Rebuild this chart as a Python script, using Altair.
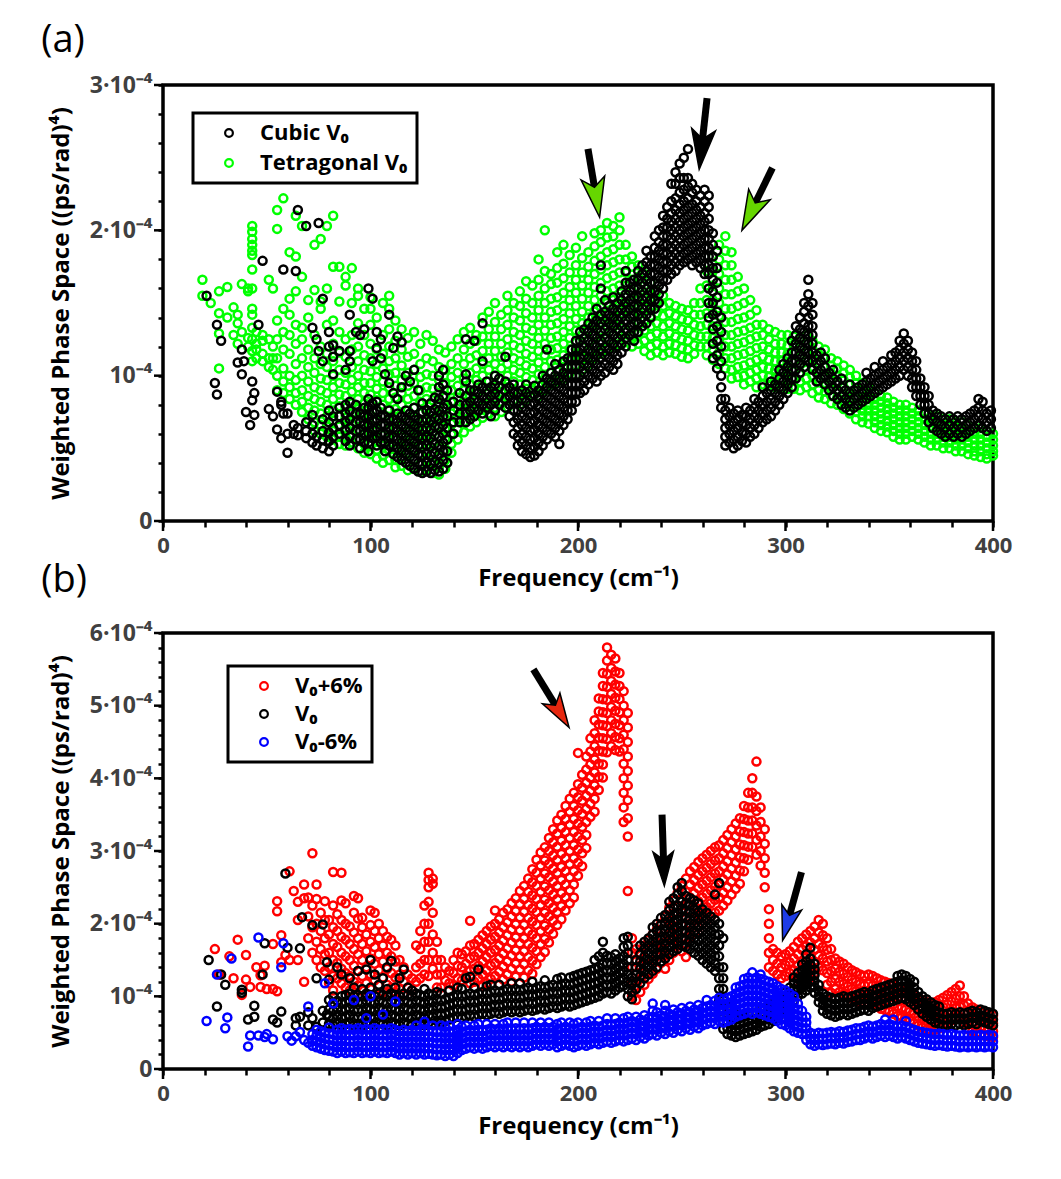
import math
import altair as alt
import pandas as pd

# ---------------- tick values / labels ----------------
FREQ_TICKS = list(range(0, 401, 20))
FREQ_MAJOR = [0, 100, 200, 300, 400]
YTICKS_A = [round(i * 0.2, 1) for i in range(16)]
YTICKS_B = [round(i * 0.2, 1) for i in range(31)]
YMAJOR_A = [0, 1, 2, 3]
YMAJOR_B = [0, 1, 2, 3, 4, 5, 6]

SERIES_A = ["Cubic V₀", "Tetragonal V₀"]
COLORS_A = ["#000000", "#00ff00"]
SERIES_B = ["V₀+6%", "V₀", "V₀-6%"]
COLORS_B = ["#ff0000", "#000000", "#0000ff"]

# ---------------- data: "frequency: values (x 1e-6)" ----------------
# panel (a) tetragonal V0 (green)
TET_A = """
19: 166 155
23: 150
27: 158 143 129 105
31: 161 140
34: 147 128
36: 142 136 122
38: 163 130
41: 160 158 120 126
43: 203 199 194 190 186 183 173 160 146 142 133 125 117 110
45: 130 122 118 112
48: 128 115 110 124
51: 166 125 112 106
53: 160 120 104 112
55: 214 201 138 125 112 100 90
58: 222 146 130 118 105 96 88
61: 185 153 142 128 115 100 92 84
64: 210 182 158 135 122 108 97 88 80
67: 203 168 133 125 112 100 90 82 75
70: 152 140 118 106 96 86 78 70
73: 190 159 128 112 102 92 84 76 68 62
76: 194 151 146 120 108 98 90 82 74 66 60
79: 203 160 135 115 106 97 88 80 72 65 58
82: 210 175 138 122 110 100 92 84 76 69 62 56
85: 175 151 130 116 104 95 87 79 72 65 58 53
88: 168 162 125 113 102 94 86 78 71 64 58 52
91: 174 150 128 118 106 97 89 81 74 67 60 54
94: 160 155 136 120 110 100 92 84 77 70 63 56 50
97: 146 128 114 104 95 88 81 74 67 60 53 47
100: 154 146 135 122 112 103 95 87 80 73 66 59 52 46
103: 140 118 108 99 91 83 76 69 62 55 49 43
106: 150 128 115 105 96 88 80 73 66 59 52 45 40
109: 155 146 132 120 110 101 92 84 77 70 63 56 49 42
112: 138 124 112 102 93 85 77 70 63 56 49 42 37
115: 132 118 107 97 88 80 72 65 58 51 44 38
118: 126 113 102 93 84 76 68 61 54 47 40 35
121: 130 115 104 95 86 78 70 63 56 49 42 36
124: 122 108 99 90 82 74 67 60 53 46 39 34
127: 128 112 101 92 84 76 69 62 55 48 41 35
130: 124 110 100 91 83 75 68 61 54 47 40 33
133: 118 106 97 88 80 72 65 58 51 44 37 32
136: 116 104 95 86 78 70 63 56 49 42 36
139: 120 108 99 90 82 74 67 60 53 47
142: 125 112 102 93 85 77 70 63 56
145: 130 118 108 98 90 82 75 68 61
148: 133 122 112 102 94 86 79 72 65
151: 128 124 114 105 97 89 82 75 68
154: 140 127 117 108 100 92 85 78 71
157: 144 132 122 112 104 96 88 81 74
160: 150 137 127 117 108 100 92 85 78 72
163: 142 132 122 113 105 97 89 82 75
166: 155 145 135 125 116 108 100 92 85 78
169: 150 140 130 121 112 104 96 89 82
172: 158 148 138 128 119 110 102 94 87 80
175: 165 153 143 133 124 115 107 99 91 84
178: 162 150 140 131 122 113 105 97 90
181: 180 166 155 145 135 126 117 109 101 93 86
184: 200 172 160 150 140 131 122 114 106 98 90
187: 170 163 153 144 135 126 118 110 102 94
190: 185 174 164 154 145 136 127 119 111 103 96
193: 190 177 167 157 148 139 130 122 114 106 98
196: 183 171 161 152 143 134 126 118 110 102
199: 188 176 166 157 148 139 131 123 115 107 100
202: 196 181 171 162 153 144 136 128 120 112 104
205: 185 175 166 157 148 140 132 124 116 108
208: 198 189 179 170 161 152 144 136 128 120 112
211: 200 192 182 173 164 155 147 139 131 123 115
214: 205 195 185 176 167 158 150 142 134 126 118
217: 203 196 187 178 169 160 152 144 136 128 120
220: 209 200 190 180 171 162 154 146 138 130 122
223: 190 180 171 162 154 146 138 130 123
226: 182 175 166 158 150 142 134 127 120
229: 176 168 160 152 144 136 129 122
232: 170 162 154 146 138 131 124 117
235: 164 156 148 141 134 127 120 114
238: 158 150 143 136 129 122 116
241: 155 148 141 134 127 120 114
244: 150 143 136 129 122 116
247: 148 141 134 127 121 115
250: 146 139 132 125 119 113
253: 145 138 131 124 118 112
256: 150 142 135 128 121 115
259: 160 150 142 134 127 120
262: 172 162 152 143 135 127 120 114
265: 182 172 162 152 143 134 126 118 111
268: 190 180 170 160 150 141 132 124 116 108
271: 196 186 176 166 156 146 137 128 120 112 105
274: 185 176 166 156 146 137 128 120 112 104 98
277: 168 158 148 139 130 122 114 106 99
280: 160 150 140 131 123 115 107 100 94
283: 152 142 133 125 117 109 102 96
286: 145 135 127 119 111 104 98 92
289: 135 128 120 113 106 100 94
292: 132 125 118 111 105 99 93
295: 130 122 116 110 104 98 92
298: 128 122 116 110 104 98 92
301: 128 121 115 109 103 97 91
304: 127 121 115 109 103 97 91
307: 126 120 114 108 102 96 90
310: 128 122 116 110 104 98 92
313: 124 118 112 106 100 94 88
316: 120 114 108 102 96 90 85
319: 118 112 106 100 95 89 84
322: 112 107 101 96 91 86 81
325: 110 105 100 95 90 85 80
328: 107 102 97 92 87 82 77
331: 104 99 94 89 84 79 74
334: 100 95 90 85 80 75 70
337: 95 90 85 80 76 72 68
340: 92 88 84 80 76 72 67
343: 88 84 80 76 72 68 64
346: 86 82 78 74 70 66 62
349: 85 81 77 73 69 65 61
352: 82 78 74 70 66 62 58
355: 80 76 72 68 64 60 56
358: 80 76 72 68 64 60 56
361: 78 74 70 66 62 58
364: 76 72 68 64 60 56
367: 74 70 66 62 58 54
370: 72 68 64 60 56 52
373: 72 68 64 60 56 52
376: 70 66 62 58 54 50
379: 70 66 62 58 54 50
382: 68 64 60 56 52 48
385: 68 64 60 56 52 48
388: 66 62 58 54 50 46
391: 64 60 56 52 48 45
394: 64 60 56 52 48 44
397: 62 58 54 50 46 43
400: 60 56 52 48 45
"""

# panel (a) cubic V0 (black)
CUB_A = """
21: 155
25: 95
26: 135 87
28: 124
36: 109
38: 118 101
39: 110
40: 75
42: 66
43: 96 83
44: 88 73
46: 135
48: 179
51: 77
53: 72
55: 89 63
57: 57 82 80
58: 173 74
60: 47 60 74
63: 60 66
64: 172
65: 214 59 64
69: 203 57 62 68
72: 133 54 60 66 73
74: 125 52 58
75: 205 117
77: 153 110 50 56 62 70
80: 130 120 48 55 61 68 76
82: 121 113 101 52 58 64 72
85: 117 60 66 72 78
88: 104 55 62 68 74 80
90: 142 117 110 52 58 64 70 76 82
93: 130 56 62 68 74 80
95: 128 50 56 62 68 74
97: 132 54 60 66 72 78
99: 160 48 54 60 66 72 78 84
101: 153 110 57 63 69 75 81
103: 130 119 52 58 64 70 76 82
105: 125 112 54 60 66 72 78
107: 101 48 54 60 66 72
109: 142 95 52 58 64 70 76
111: 119 88 46 52 58 64 70
113: 127 84 44 50 56 62 68 74
115: 123 92 42 48 54 60 66 72
117: 100 40 46 52 58 64 70 76
119: 96 38 44 50 56 62 68 74
121: 104 36 42 48 54 60 66 72 78
123: 90 34 40 46 52 58 64 70
125: 33 39 45 51 57 63 69 75 81
127: 34 40 46 52 58 64 70 76
129: 33 39 45 51 57 63 69 75 81
131: 35 41 47 53 59 65 71 77 85
133: 34 40 46 52 58 64 70 76 84 92 100
135: 36 42 48 54 60 66 72 78 86 94 104
137: 40 48 56 64 72 80 90
140: 60 68 76 82
143: 68 74 80 88
146: 125 101 96 68 74 80 86
148: 70 76 82 90
150: 124 72 78 84 90
152: 76 82 88 94
154: 136 110 74 80 86 92
156: 78 84 90 96
158: 72 80 86 92
160: 76 82 88 94 100
162: 80 86 92 98
165: 113 78 84 90 96
167: 72 80 86 92
169: 60 68 76 82 88 94
171: 52 58 64 70 76 82 88
173: 48 54 60 66 72 78 84 90
175: 46 52 58 64 70 76 82 88 94
177: 44 50 56 62 68 74 80 86
179: 45 51 57 63 69 75 81 87 93
181: 48 54 60 66 72 78 84 90
183: 52 58 64 70 76 82 88 94 100
185: 118 56 62 68 74 80 86 92 98
187: 60 66 72 78 84 90 96 102
189: 58 64 70 76 82 88 94 100 108
191: 53 62 68 74 80 86 92 98 104
193: 66 72 78 84 90 96 102 110
195: 70 76 82 88 94 100 106 112
197: 76 82 88 94 100 106 112 118
199: 82 88 94 100 106 112 118 124
201: 88 94 100 106 112 118 124 130
203: 90 96 102 108 114 120 126 132
205: 94 100 106 112 118 124 130 136
207: 98 104 110 116 122 128 134 140
209: 96 102 108 114 120 126 132 138 146
211: 100 106 112 118 124 130 136 142 160 176
213: 102 108 114 120 126 132 138 144 152
215: 106 112 118 124 130 136 142 148
217: 104 110 116 122 128 134 140 146 154
219: 108 114 120 126 132 138 144 150
221: 116 122 128 134 140 146 152 158
223: 120 126 132 138 144 150 156 164 172
225: 128 134 140 146 152 158 164
227: 124 130 136 142 148 154 160 166
229: 130 136 142 148 154 160 166 172
231: 134 140 146 152 158 164 170 176
233: 136 142 148 154 160 166 172 178 186
235: 140 146 152 158 164 170 176 182
237: 146 152 158 164 170 176 182 188 196
239: 150 156 162 168 174 180 186 192 200
241: 160 166 172 178 184 190 196 202 210
243: 166 172 178 184 190 196 202 208 216
245: 170 176 182 188 194 200 206 212 220 232
247: 172 178 184 190 196 202 208 214 222 232 240
249: 176 182 188 194 200 206 212 218 226 236 246
251: 178 184 190 196 202 208 214 220 228 236 250
253: 180 186 192 198 204 210 216 222 230 236 256
255: 176 182 188 194 200 206 212 218 226 232
257: 178 184 190 196 202 208 214 220 228
259: 174 180 186 192 198 204 210 216 224
261: 170 176 182 188 194 200 206 212 220 228
263: 140 150 160 170 176 182 188 194 200 208 216 224
265: 112 122 132 142 150 158 166 174 182 190 198
267: 105 114 124 134 144 154 164 174 186
269: 78 84 92 100 110 120 130 140
271: 52 58 64 70 76 84
273: 54 60 66 72 78
275: 50 56 62 68 74
277: 52 58 64 70 76
279: 55 61 67 73
281: 54 60 66 72 78
283: 58 64 70 76
285: 60 66 72 78 84
287: 64 70 76 82
289: 68 74 80 86 92
291: 70 76 82 88
293: 72 78 84 90 96
295: 76 82 88 94
297: 80 86 92 98 104
299: 84 90 96 102 108
301: 88 94 100 106 112
303: 92 98 104 110 116 124
305: 98 104 110 116 122 128 134
307: 102 108 114 120 126 132 140
309: 106 112 118 124 130 136 144 150
311: 110 116 122 128 134 140 148 156 166
313: 104 110 116 122 128 134 142 150
315: 96 102 108 114
317: 98 104 110 116
319: 94 100 106 112
321: 90 96 102
323: 86 92 98 104
325: 84 90 96
327: 80 86 92 98
329: 78 84 90
331: 76 82 88 94
333: 78 84 90
335: 80 86 92
337: 82 88 94
339: 84 90 96 102
341: 86 92 98
343: 88 94 100 106
345: 90 96 102
347: 92 98 104 110
349: 94 100 106
351: 96 102 108 114
353: 98 104 110 116
355: 100 106 112 118 124
357: 104 110 116 122 129
359: 100 106 112 118 124
361: 92 98 104 110 116
363: 86 92 98 104 110
365: 80 86 92 98
367: 74 80 86 92
369: 68 74 80 86
371: 64 70 76
373: 62 68 74
375: 60 66 72
377: 58 64 70
379: 60 66 72
381: 58 64 70
383: 60 66 72
385: 58 64 70
387: 60 66 72
389: 62 68 74
391: 64 70 76
393: 66 72 78 84
395: 64 70 76 82
397: 62 68 74
399: 64 70 76
"""

# panel (b) V0+6% (red)
P6_B = """
25: 165
27: 130
32: 155
34: 125
36: 178
38: 102
40: 157 123
42: 113
45: 140
47: 129 113
49: 142
50: 110
53: 172 110
55: 231 217 107
57: 184 147
59: 157
61: 272 150
63: 245
65: 230 205 150
68: 254 235 120
70: 236 210 180
72: 297 225 195 160
74: 254 234 200 175 150
76: 215 190 165 140
78: 231 205 180 158 135
80: 205 185 160 140 118
82: 271 225 195 172 150 128 108
84: 213 190 168 146 125
86: 270 232 205 182 160 138 118
88: 228 200 178 155 132 112
90: 196 172 150 128 108
92: 238 215 188 165 142 120 100
94: 235 207 180 158 135 115
96: 208 195 172 150 128 108
98: 185 162 140 118 100
100: 218 198 175 152 130 110
102: 215 190 168 145 122 102
104: 200 180 158 136 115
106: 190 170 148 126 106
108: 182 160 138 116
110: 178 155 132 112
112: 170 148 126 106
114: 150 130 110
116: 140 120 102
118: 130 112
120: 125 108
122: 170 140 120
124: 190 165 145 125
126: 225 200 175 150 130
128: 270 260 250 230 200 175 150 128
130: 262 255 215 185 160 138
132: 175 150 130 112
134: 150 130 112
136: 140 122
138: 135 118
140: 150 132 115
142: 160 142 125
144: 158 140 122
146: 162 145 128
148: 204 170 152 135 118
150: 172 155 138 120
152: 178 160 142 125
154: 184 166 148 130 114
156: 190 172 154 136 118
158: 196 178 160 142 124
160: 218 200 182 164 146 128
162: 206 188 170 152 134 116
164: 215 195 177 159 141 123
166: 220 202 184 166 148 130
168: 228 210 192 174 156 138 120
170: 235 217 199 181 163 145 127
172: 245 227 209 191 173 155 137
174: 252 234 216 198 180 162 144 126
176: 262 244 226 208 190 172 154 136
178: 275 257 239 221 203 185 167 149 131
180: 288 270 252 234 216 198 180 162 144
182: 298 280 262 244 226 208 190 172 154
184: 305 287 269 251 233 215 197 179 161
186: 318 300 282 264 246 228 210 192 174
188: 330 312 294 276 258 240 222 204 186
190: 342 324 306 288 270 252 234 216 198
192: 350 332 314 296 278 260 242 224 206
194: 362 344 326 308 290 272 254 236 218
196: 372 354 336 318 300 282 264 246 228
198: 380 362 344 326 308 290 272 254 236
200: 435 392 374 356 338 320 302 284 266
202: 405 387 369 351 333 315 297 279
204: 430 412 394 376 358 340 322 304
206: 455 437 419 401 383 365 347
208: 480 462 444 426 408 390 372 354
210: 510 492 474 456 438 420 402 384
212: 545 527 509 491 473 455 437 419 401
214: 580 562 544 526 508 490 472 454 436
216: 570 552 534 516 498 480 462 444
218: 565 547 529 511 493 475 457 439
220: 545 527 509 491 473 455 437
222: 520 500 480 460 440 420 400 380 360 340
224: 490 470 450 430 410 390 370 345 320 245
226: 180 160 140 120 100
228: 165 148 130 112 95
230: 160 142 124 106
232: 170 152 134 116
234: 178 160 142 124
236: 185 167 149 131
238: 192 174 156 138
240: 200 182 164 146
242: 210 192 174 156 138
244: 222 204 186 168 150
246: 232 214 196 178 160
248: 242 224 206 188 170
250: 252 234 216 198 180 162
252: 262 244 226 208 190 172 154
254: 272 254 236 218 200 182
256: 278 260 242 224 206 188
258: 285 267 249 231 213 195
260: 290 272 254 236 218 200
262: 295 277 259 241 223 205
264: 300 282 264 246 228 210
266: 305 287 269 251 233 215
268: 308 290 272 254 236 218
270: 315 297 279 261 243 225
272: 322 304 286 268 250 232
274: 330 312 294 276 258 240
276: 338 320 302 284 266 248
278: 345 327 309 291 273 255
280: 362 344 326 308 290 272
282: 380 360 342 324 306 288
284: 400 380 360 342 324 306
286: 423 375 355 335 315 295
288: 360 340 320 300 280
290: 330 310 290 270 250
292: 220 200 180 160 140
294: 165 150 135
296: 160 145 130
298: 155 140 125
300: 158 143 128
302: 162 147 132
304: 168 152 136 120
306: 175 158 142 126
308: 180 164 148 132
310: 185 169 153 137
312: 190 174 158 142 126
314: 196 180 164 148 132
316: 205 188 172 156 140
318: 200 184 168 152 136
320: 180 164 148 132 116
322: 165 150 135 120 105
324: 152 138 124 110
326: 148 134 120 106
328: 145 131 117 103
330: 140 127 114 101
332: 136 123 110 97
334: 133 120 107 94
336: 130 117 104 91
338: 128 115 102 89
340: 130 117 104 91
342: 128 115 102 89
344: 125 112 99 86
346: 122 109 96 83
348: 120 107 94 81
350: 118 105 92 79
352: 115 102 89 76
354: 112 99 86 73
356: 110 97 84 71
358: 108 95 82 69
360: 105 92 79 66
362: 102 89 76 63
364: 98 85 72 60
366: 95 82 69 57
368: 92 79 66 54
370: 90 77 64 52
372: 92 79 66 54
374: 95 82 69 56
376: 98 85 72 59
378: 102 89 76 63
380: 106 93 80 67
382: 110 97 84 71
384: 115 100 86 72
386: 100 88 76 64
388: 90 78 66 55
390: 85 74 63 52
392: 82 71 60 50
394: 80 69 58 48
396: 78 67 56 46
398: 76 65 54 45
400: 74 63 52 44
"""

# panel (b) V0 (black)
V0_B = """
22: 150
26: 86
28: 130
30: 116
38: 109 105
41: 68
44: 87 72
48: 130
49: 173
53: 68
55: 64
57: 79
59: 269
60: 167
64: 60 70
66: 166 72
67: 209
70: 78 60
72: 198 70
74: 125 58
77: 199 80 64
79: 147 75
80: 62 72 82 95 123
82: 60 70 80 90 100
84: 64 74 84 94 140
86: 60 70 80 90 100 130
88: 62 72 82 92 102
90: 64 74 84 94 104 125
92: 60 70 80 90 100 112
94: 62 72 82 92 102 135
96: 60 70 80 90 100 110
98: 64 74 84 94 104 137
100: 62 72 82 92 102 112 150
102: 60 70 80 90 100 130
104: 64 74 84 94 104 116
106: 62 72 82 92 102 125
108: 60 70 80 90 100 110 140
110: 64 74 84 94 104 149
112: 62 72 82 92 102 112
114: 60 70 80 90 100 125
116: 64 74 84 94 104 137
118: 62 72 82 92 102 112
120: 60 70 80 90 100 108
122: 64 74 84 94 104
124: 62 72 82 92 102
126: 60 70 80 90 100 110
128: 64 74 84 94 104
130: 62 72 82 92 102
132: 66 76 86 96 106
134: 64 74 84 94 104
136: 66 76 86 96
138: 68 78 88 98 108
140: 70 80 90 100
142: 72 82 92 102 112
144: 70 80 90 100 110
146: 72 82 92 102 125
148: 74 84 94 104 127
150: 72 82 92 102 112
152: 74 84 94 104 137
154: 76 86 96 106
156: 74 84 94 104 114
158: 76 86 96 106 116
160: 78 88 98 108
162: 76 86 96 106 116
164: 78 88 98 108
166: 80 90 100 110
168: 78 88 98 108 118
170: 80 90 100 110
172: 78 88 98 108 118
174: 80 90 100 110
176: 82 92 102 112
178: 80 90 100 110 120
180: 82 92 102 112
182: 84 94 104 114
184: 82 92 102 112 122
186: 84 94 104 114
188: 86 96 106 116
190: 84 94 104 114 124
192: 86 96 106 116 126
194: 88 98 108 118
196: 86 96 106 116 126
198: 88 98 108 118 128
200: 90 100 110 120 130
202: 92 102 112 122 132
204: 94 104 114 124 134
206: 96 106 116 126 136
208: 98 108 118 128 138 150
210: 100 110 120 130 140 155
212: 104 114 124 134 144 160 175
214: 106 116 126 136 146 156
216: 104 114 124 134 144 154
218: 108 118 128 138 148 158
220: 112 122 132 142 152
222: 115 125 135 145 155 168 180
224: 100 110 120 130 140 150 160 170 182
226: 96 106 116 126
228: 110 120 130 140 150
230: 118 128 138 148 158 170
232: 125 135 145 155 165 175
234: 130 140 150 160 170 180
236: 135 145 155 165 175 185 195
238: 140 150 160 170 180 190 200
240: 148 158 168 178 188 198 208
242: 152 162 172 182 192 202 212
244: 158 168 178 188 198 208 218 230
246: 162 172 182 192 202 212 222 235
248: 165 175 185 195 205 215 225 240 250
250: 170 180 190 200 210 220 230 245 256
252: 168 178 188 198 208 218 228 238
254: 165 175 185 195 205 215 225 235
256: 160 170 180 190 200 210 220 232
258: 156 166 176 186 196 206 216 228
260: 150 160 170 180 190 200 210 220
262: 145 155 165 175 185 195 205 215
264: 140 150 160 170 180 190 200 210
266: 135 145 155 165 175 185 195 205 240
268: 80 95 110 125 140 155 170 185 200 256
270: 55 65 80 95 110 125 140 180
272: 48 56 66 76 86
274: 46 54 62 70
276: 44 52 60 68 76
278: 46 54 62 70
280: 48 56 64 72
282: 50 58 66 74
284: 52 60 68 76
286: 54 62 70 78
288: 58 66 74 82
290: 60 68 76 84
292: 62 70 78 86
294: 66 74 82 90
296: 70 78 86 94
298: 76 84 92 100
300: 82 90 98 106
302: 88 96 104 112
304: 94 102 110 118 126
306: 100 108 116 124 132
308: 104 112 120 128 136 144
310: 108 116 124 132 140 148 158
312: 112 120 128 136 144 152 167
314: 105 113 121 129 137 145
316: 92 100 108 116
318: 80 88 96 104
320: 76 84 92 100
322: 74 82 90 98
324: 72 80 88 96
326: 74 82 90 98
328: 76 84 92 100
330: 74 82 90 98
332: 76 84 92 100
334: 78 86 94 102
336: 80 88 96 104
338: 82 90 98 106
340: 80 88 96 104
342: 84 92 100 108
344: 86 94 102 110
346: 88 96 104 112
348: 90 98 106 114
350: 92 100 108 116
352: 94 102 110 118
354: 96 104 112 120 128
356: 98 106 114 122 130
358: 96 104 112 120 128
360: 92 100 108 116 124
362: 88 96 104 112 120
364: 82 90 98 106
366: 76 84 92 100
368: 72 80 88 96
370: 68 76 84 92
372: 64 72 80 88
374: 62 70 78 86
376: 60 68 76
378: 60 68 76
380: 62 70 78
382: 60 68 76
384: 62 70 78
386: 60 68 76
388: 62 70 78
390: 64 72 80
392: 62 70 78
394: 66 74 82
396: 64 72 80
398: 62 70 78
400: 60 68 76
"""

# panel (b) V0-6% (blue)
M6_B = """
21: 66
26: 130
30: 56
31: 71
33: 152
41: 31
42: 46
46: 181 46
49: 44
50: 48
53: 41
57: 140
58: 173
60: 45
62: 39
64: 45
66: 51
68: 40
70: 86 36
72: 32 40 48
74: 30 38 46 54
76: 28 36 44 52
78: 26 34 42 50 118
80: 25 33 41 49 57
82: 24 32 40 48 90
84: 22 30 38 46 54
86: 24 32 40 48 56
88: 22 30 38 46 54
90: 23 31 39 47 55
92: 22 30 38 46 54 95
94: 24 32 40 48 56
96: 22 30 38 46 54
98: 23 31 39 47 55 70
100: 22 30 38 46 54 100
102: 24 32 40 48 56
104: 22 30 38 46 54
106: 23 31 39 47 55 75
108: 22 30 38 46 54
110: 24 32 40 48 56
112: 22 30 38 46 54 93
114: 20 28 36 44 52
116: 22 30 38 46 54
118: 20 28 36 44 52
120: 22 30 38 46 54
122: 20 28 36 44 52 60
124: 22 30 38 46 54
126: 20 28 36 44 52 65
128: 21 29 37 45 53
130: 20 28 36 44 52 60
132: 19 27 35 43 51
134: 20 28 36 44 52 60
136: 18 26 34 42 50 58
138: 20 28 36 44 52 60
140: 18 26 34 42 50
142: 22 30 38 46 54 62
144: 26 34 42 50 58
146: 28 36 44 52 60
148: 30 38 46 54
150: 28 36 44 52 60
152: 30 38 46 54 62
154: 28 36 44 52
156: 30 38 46 54 62
158: 32 40 48 56
160: 30 38 46 54 62
162: 32 40 48 56
164: 30 38 46 54 62
166: 32 40 48 56 64
168: 30 38 46 54
170: 32 40 48 56 64
172: 30 38 46 54
174: 32 40 48 56 64
176: 30 38 46 54
178: 32 40 48 56 64
180: 34 42 50 58
182: 32 40 48 56 64
184: 34 42 50 58
186: 32 40 48 56 64
188: 34 42 50 58
190: 30 38 46 54 62
192: 32 40 48 56 64
194: 34 42 50 58
196: 32 40 48 56 64
198: 30 38 46 54 62
200: 32 40 48 56 64
202: 34 42 50 58
204: 32 40 48 56 64
206: 34 42 50 58 66
208: 36 44 52 60
210: 34 42 50 58 66
212: 36 44 52 60
214: 38 46 54 62 70
216: 36 44 52 60
218: 38 46 54 62 70
220: 40 48 56 64
222: 38 46 54 62 70
224: 40 48 56 64 72
226: 42 50 58 66
228: 40 48 56 64 72
230: 44 52 60 68
232: 42 50 58 66 74
234: 46 54 62 70
236: 48 56 64 72 80 90
238: 46 54 62 70 78
240: 50 58 66 74
242: 48 56 64 72 80 88
244: 52 60 68 76
246: 50 58 66 74 82
248: 54 62 70 78
250: 52 60 68 76 84
252: 56 64 72 80
254: 54 62 70 78 86
256: 58 66 74 82
258: 56 64 72 80 88
260: 60 68 76 84
262: 62 70 78 86 95
264: 64 72 80 88
266: 62 70 78 86 94
268: 66 74 82 90 98
270: 64 72 80 88 96
272: 66 74 82 90 98
274: 68 76 84 92 100
276: 72 80 88 96 104 112
278: 74 82 90 98 106 114
280: 76 84 92 100 108 116 124
282: 78 86 94 102 110 118 126
284: 76 84 92 100 108 116 124 133
286: 78 86 94 102 110 118 126
288: 76 84 92 100 108 116 124 130
290: 74 82 90 98 106 114 122
292: 72 80 88 96 104 112 120
294: 70 78 86 94 102 110 118
296: 66 74 82 90 98 106 114
298: 62 70 78 86 94 102 110
300: 60 68 76 84 92 100 108
302: 56 64 72 80 88 96 104
304: 52 60 68 76 84 92 100
306: 50 58 66 74 82 90
308: 48 56 64 72 80
310: 40 48 56 64 72
312: 34 42 50
314: 32 40 48
316: 34 42 50
318: 33 41 49
320: 34 42 50
322: 35 43 51
324: 34 42 50
326: 36 44 52
328: 35 43 51
330: 37 45 53
332: 38 46 54
334: 40 48 56
336: 40 48 56
338: 42 50 58
340: 44 52 60
342: 42 50 58
344: 44 52 60
346: 46 54 62
348: 44 52 60 68
350: 46 54 62
352: 44 52 60 68
354: 42 50 58
356: 44 52 60
358: 42 50 58 66
360: 40 48 56
362: 38 46 54
364: 36 44 52
366: 35 43 51
368: 34 42 50
370: 33 41 49
372: 32 40 48
374: 33 41 49
376: 32 40 48
378: 31 39 47
380: 32 40 48
382: 31 39 47
384: 30 38 46
386: 31 39 47
388: 30 38 46
390: 31 39 47
392: 30 38 46
394: 31 39 47
396: 30 38 46
398: 31 39 47
400: 30 38 46
"""

# arrows: tail and tip positions (frequency, value in 1e-4)
ARROW_A_TAIL_F = [204.8, 262.2, 293.7]
ARROW_A_TAIL_V = [2.56, 2.91, 2.43]
ARROW_A_TIP_F = [210.4, 258.4, 279.0]
ARROW_A_TIP_V = [2.09, 2.42, 2.00]
ARROW_A_HEAD = ["#66d600", "#000000", "#66d600"]

ARROW_B_TAIL_F = [178.5, 240.5, 307.7]
ARROW_B_TAIL_V = [5.50, 3.50, 2.71]
ARROW_B_TIP_F = [195.7, 241.6, 298.6]
ARROW_B_TIP_V = [4.70, 2.52, 1.77]
ARROW_B_HEAD = ["#e62810", "#000000", "#1e3ce6"]

# ---------------- build tables ----------------
def parse(text, name):
    rows = []
    for line in text.strip().splitlines():
        f, vals = line.split(":")
        for v in vals.split():
            rows.append({"freq": float(f), "wps": int(v) / 100.0, "series": name})
    return rows

W, H = 830, 436
FONT = "Open Sans"
LABEL_SIZE = 22
YLABEL_SIZE = 23
TITLE_SIZE = 24
LEGEND_SIZE = 22
HEAD_PATH = "M0,-1L0.57,0.9L0,0.45L-0.57,0.9Z"


def arrow_table(tf, tv, pf, pv, heads, ymax, unit):
    sx, sy = W / 400.0, H / ymax
    rows = []
    for a, b, c, d, col in zip(tf, tv, pf, pv, heads):
        dx = (c - a) * sx
        dy = -(d - b) * sy
        L = math.hypot(dx, dy)
        ux, uy = dx / L, dy / L
        ang = (math.degrees(math.atan2(ux, -uy)) + 360.0) % 360.0
        cf = c - ux * unit / sx
        cv = d + uy * unit / sy
        rows.append({"freq": a, "wps": b, "freq2": cf, "wps2": cv,
                     "angle": ang, "head": col})
    return pd.DataFrame(rows)


def panel(df, arrows_df, ymax, yticks, ymajor, series, colors, legx, legy, rowpad,
          title, title_offset, head_size):
    xax = alt.Axis(values=FREQ_TICKS,
                   labelExpr="datum.value % 100 === 0 ? datum.label : ''",
                   title="Frequency (cm⁻¹)", labelFlush=False, labelOverlap=False,
                   domain=False, grid=False, ticks=True, tickSize=6, tickWidth=2.5,
                   tickColor="black", labelFont=FONT, labelFontSize=LABEL_SIZE,
                   labelFontWeight="bold", labelColor="#404040", labelPadding=8,
                   titleFont=FONT, titleFontSize=TITLE_SIZE, titleFontWeight="bold",
                   titleColor="black", titlePadding=10)
    yax = alt.Axis(values=yticks,
                   labelExpr="datum.value === 0 ? '0' : (datum.value === 1 ? '10⁻⁴' : (datum.value % 1 === 0 ? datum.value + '·10⁻⁴' : ''))",
                   title="Weighted Phase Space ((ps/rad)⁴)", labelOverlap=False,
                   domain=False, grid=False, tickSize=5, tickWidth=2.5,
                   tickColor="black", labelFont=FONT, labelFontSize=YLABEL_SIZE,
                   labelFontWeight="bold", labelColor="#404040", labelPadding=6,
                   titleFont=FONT, titleFontSize=TITLE_SIZE, titleFontWeight="bold",
                   titleColor="black", titlePadding=16)
    xs = alt.Scale(domain=[0, 400], nice=False)
    ys = alt.Scale(domain=[0, ymax], nice=False)
    pts = alt.Chart(df).mark_point(shape="circle", filled=False, size=64,
                                   strokeWidth=2.5, opacity=1).encode(
        x=alt.X("freq:Q", scale=xs, axis=xax),
        y=alt.Y("wps:Q", scale=ys, axis=yax),
        color=alt.Color("series:N", scale=alt.Scale(domain=series, range=colors),
                        legend=alt.Legend(title=None, orient="none", legendX=legx,
                                          legendY=legy, strokeColor="black",
                                          padding=9, labelFont=FONT,
                                          labelFontSize=LEGEND_SIZE,
                                          labelFontWeight="bold", labelLimit=400,
                                          labelColor="black", symbolType="circle",
                                          symbolSize=60, symbolStrokeWidth=2.2,
                                          symbolOffset=16, labelOffset=20,
                                          rowPadding=rowpad)),
    )
    xmaj = alt.Chart(pd.DataFrame({"freq": FREQ_MAJOR})).mark_rule(
        color="black", strokeWidth=2.5).encode(
        x=alt.X("freq:Q", scale=xs, axis=xax),
        y=alt.value(H), y2=alt.value(H + 10))
    ymaj = alt.Chart(pd.DataFrame({"wps": ymajor})).mark_rule(
        color="black", strokeWidth=2.5).encode(
        y=alt.Y("wps:Q", scale=ys, axis=yax),
        x=alt.value(0), x2=alt.value(-9))
    shaft = alt.Chart(arrows_df).mark_rule(color="black", strokeWidth=7).encode(
        x=alt.X("freq:Q", scale=xs, axis=xax),
        y=alt.Y("wps:Q", scale=ys, axis=yax),
        x2="freq2:Q", y2="wps2:Q")
    head = alt.Chart(arrows_df).mark_point(shape=HEAD_PATH, filled=True,
                                           size=head_size, stroke="black",
                                           strokeWidth=1.5, opacity=1).encode(
        x=alt.X("freq2:Q", scale=xs, axis=xax),
        y=alt.Y("wps2:Q", scale=ys, axis=yax),
        angle=alt.Angle("angle:Q", scale=None),
        fill=alt.Fill("head:N", scale=None))
    return alt.layer(pts, xmaj, ymaj, shaft, head).properties(
        width=W, height=H,
        title=alt.TitleParams(title, anchor="start", font=FONT, fontSize=38,
                              fontWeight="normal", color="black",
                              offset=title_offset, dx=-8))


df_a = pd.DataFrame(parse(TET_A, SERIES_A[1]) + parse(CUB_A, SERIES_A[0]))
df_b = pd.DataFrame(parse(P6_B, SERIES_B[0]) + parse(V0_B, SERIES_B[1]) +
                    parse(M6_B, SERIES_B[2]))

arr_a = arrow_table(ARROW_A_TAIL_F, ARROW_A_TAIL_V, ARROW_A_TIP_F, ARROW_A_TIP_V,
                    ARROW_A_HEAD, 3, 21)
arr_b = arrow_table(ARROW_B_TAIL_F, ARROW_B_TAIL_V, ARROW_B_TIP_F, ARROW_B_TIP_V,
                    ARROW_B_HEAD, 6, 18)

chart_a = panel(df_a, arr_a, 3, YTICKS_A, YMAJOR_A, SERIES_A, COLORS_A, 30, 28, 8,
                "(a)", 14, 1764)
chart_b = panel(df_b, arr_b, 6, YTICKS_B, YMAJOR_B, SERIES_B, COLORS_B, 65, 33, 6,
                "(b)", 22, 1296)

chart = alt.vconcat(chart_a, chart_b, spacing=112, bounds="flush").resolve_scale(
    color="independent"
).properties(
    padding={"left": 31, "top": 12, "right": 5, "bottom": 5}
).configure_view(stroke="black", strokeWidth=3.5).configure_legend(strokeWidth=3)

chart.save("out.html", embed_options={"renderer": "svg", "actions": False})
